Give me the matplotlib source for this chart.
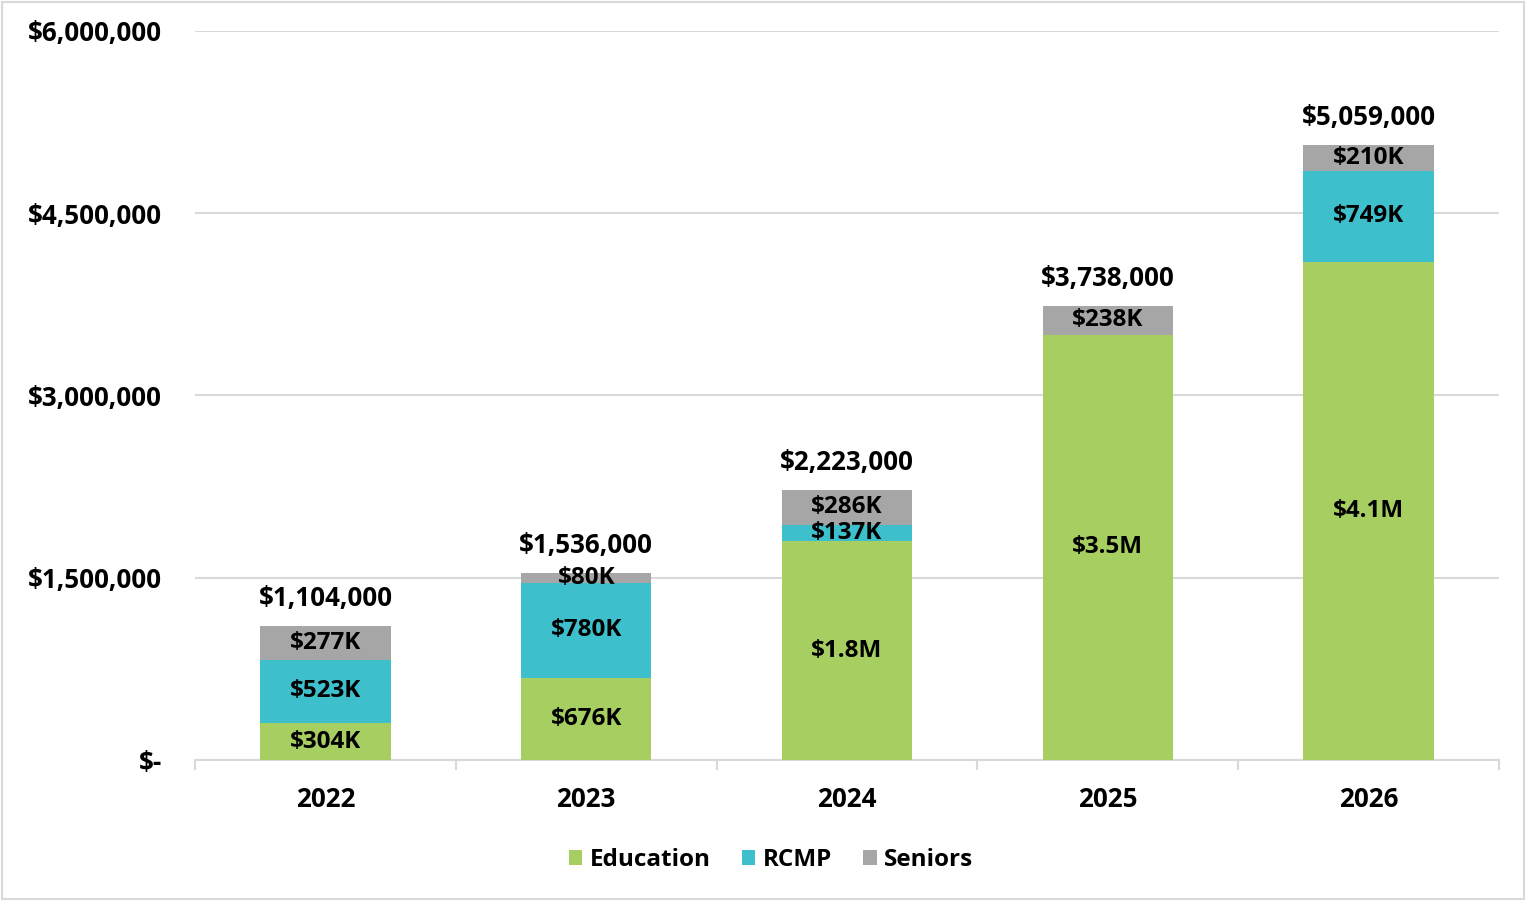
import matplotlib
matplotlib.use("Agg")
import matplotlib.pyplot as plt
from matplotlib.patches import Rectangle
import numpy as np

years = ["2022", "2023", "2024", "2025", "2026"]
education = [304000, 676000, 1800000, 3500000, 4100000]
rcmp = [523000, 780000, 137000, 0, 749000]
seniors = [277000, 80000, 286000, 238000, 210000]
edu_labels = ["$304K", "$676K", "$1.8M", "$3.5M", "$4.1M"]
rcmp_labels = ["$523K", "$780K", "$137K", "", "$749K"]
sen_labels = ["$277K", "$80K", "$286K", "$238K", "$210K"]
totals = [1104000, 1536000, 2223000, 3738000, 5059000]
yticks = [0, 1500000, 3000000, 4500000, 6000000]
ytick_labels = ["$-", "$1,500,000", "$3,000,000", "$4,500,000", "$6,000,000"]

c_edu = "#A6CE60"
c_rcmp = "#3DBFCC"
c_sen = "#A6A6A6"

plt.rcParams['font.family'] = ['Open Sans', 'DejaVu Sans']
plt.rcParams['font.weight'] = 'bold'

W, H = 1526, 901
fig = plt.figure(figsize=(W/100, H/100), dpi=100)
ax = fig.add_axes([195/W, 1-760/H, (1499-195)/W, (760-31)/H])

x = np.arange(len(years))
bw = 0.5
edu = np.array(education); rc = np.array(rcmp); se = np.array(seniors)
ax.bar(x, edu, bw, color=c_edu, label="Education", zorder=3)
ax.bar(x, rc, bw, bottom=edu, color=c_rcmp, label="RCMP", zorder=3)
ax.bar(x, se, bw, bottom=edu+rc, color=c_sen, label="Seniors", zorder=3)

fs = 17.5
fs_big = 18.7
for i in range(len(years)):
    ax.text(x[i], edu[i]/2, edu_labels[i], ha='center', va='center', fontsize=fs, fontweight='bold', zorder=4)
    if rcmp_labels[i]:
        ax.text(x[i], edu[i] + rc[i]/2, rcmp_labels[i], ha='center', va='center', fontsize=fs, fontweight='bold', zorder=4)
    ax.text(x[i], edu[i] + rc[i] + se[i]/2, sen_labels[i], ha='center', va='center', fontsize=fs, fontweight='bold', zorder=4)
    ax.text(x[i], totals[i] + 228000, "${:,}".format(totals[i]), ha='center', va='center', fontsize=fs_big, fontweight='bold', zorder=4)

ax.set_xlim(-0.5, len(years)-0.5)
ax.set_ylim(0, 6000000)
ax.set_yticks(yticks)
ax.set_yticklabels(ytick_labels, fontsize=fs_big, fontweight='bold')
ax.yaxis.grid(True, color='#D9D9D9', linewidth=1.5, zorder=0)
ax.tick_params(axis='y', length=0, pad=24)
ax.set_xticks(x)
ax.set_xticklabels(years, fontsize=fs_big, fontweight='bold')
ax.tick_params(axis='x', length=0, pad=19)
ax.set_xticks(np.arange(-0.5, len(years), 1.0), minor=True)
ax.tick_params(axis='x', which='minor', length=7, color='#D9D9D9', width=1.5)
for s in ['top', 'right', 'left']:
    ax.spines[s].set_visible(False)
ax.spines['bottom'].set_color('#D9D9D9')
ax.spines['bottom'].set_linewidth(1.5)

leg = fig.legend(loc='center', bbox_to_anchor=(771/W, 1-860/H), ncol=3, frameon=False,
                 fontsize=fs, handlelength=0.55, handleheight=0.55, handletextpad=0.3, columnspacing=1.3)

fig.patches.append(Rectangle((2/W, 2/H), 1-4/W, 1-4/H, transform=fig.transFigure,
                             fill=False, edgecolor='#D9D9D9', linewidth=1.5))

fig.savefig("out.png", dpi=100)
